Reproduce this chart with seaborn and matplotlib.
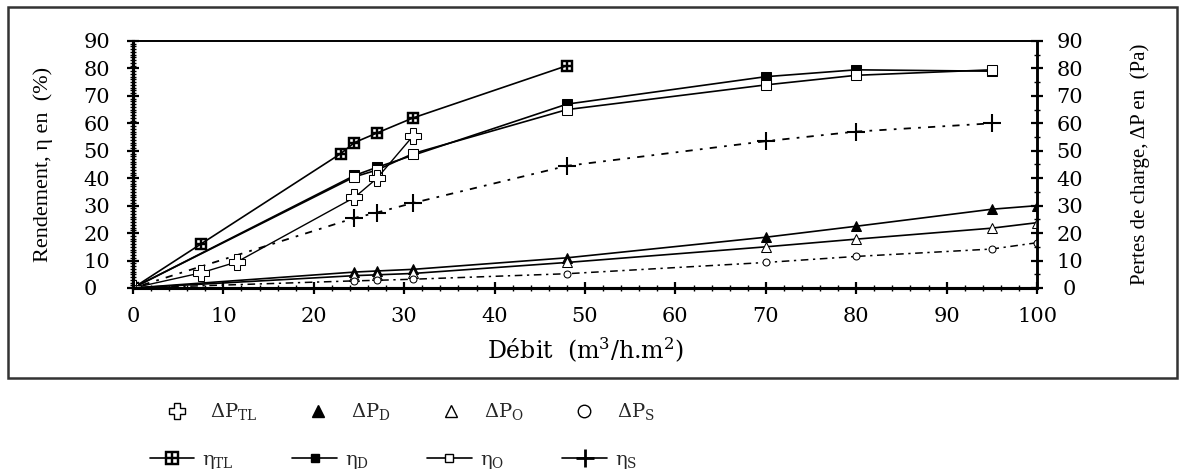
import matplotlib
matplotlib.use("Agg")
import matplotlib.pyplot as plt
from matplotlib.lines import Line2D
from matplotlib.patches import Rectangle
from matplotlib.ticker import MultipleLocator
import seaborn as sns

# débit (m3/h.m2) and measured values
x_tl = [0, 7.5, 23, 24.5, 27, 31, 48]
eta_tl = [0, 16, 49, 53, 56.5, 62, 81]

x_d = [0, 24.5, 27, 48, 70, 80, 95]
eta_d = [0, 41, 44, 67, 77, 79.5, 79]

x_o = [0, 24.5, 27, 31, 48, 70, 80, 95]
eta_o = [0, 40.5, 43, 49, 65, 74, 77.5, 79.5]

x_s = [0, 24.5, 27, 31, 48, 70, 80, 95]
eta_s = [0, 25.5, 27.5, 31, 44.5, 53.5, 57, 60]

x_dp_tl = [0, 7.5, 11.5, 24.5, 27, 31]
dp_tl = [0, 5.5, 9.5, 33, 40, 55.5]

x_dp = [0, 24.5, 27, 31, 48, 70, 80, 95, 100]
dp_d = [0, 5.8, 6.2, 6.8, 11, 18.5, 22.5, 28.7, 30]
dp_o = [0, 4.5, 4.8, 5.3, 9.3, 15, 17.8, 21.8, 23.8]
dp_s = [0, 2.6, 2.8, 3.2, 5.2, 9.3, 11.5, 14.2, 16.5]

sns.set_theme(style="ticks")
plt.rcParams["font.family"] = ["DejaVu Serif"]
plt.rcParams["mathtext.fontset"] = "dejavuserif"
label_font = ["Liberation Serif", "DejaVu Serif"]

fig = plt.figure(figsize=(11.79, 4.75), dpi=100)
ax = fig.add_axes([0.1128, 0.3937, 0.7668, 0.52])
ax2 = ax.twinx()

k = "black"
dashdot = (0, (5, 3, 1.5, 3))
sparse_dot = (0, (1.5, 4, 4, 4))

# rendement curves (left axis)
sns.lineplot(x=x_tl, y=eta_tl, ax=ax, color=k, lw=1.2, marker=r"$\boxplus$",
             markersize=8, markeredgewidth=0.3, markeredgecolor=k, markerfacecolor=k,
             sort=False)
sns.lineplot(x=x_d, y=eta_d, ax=ax, color=k, lw=1.2, marker="s", markersize=6.5,
             markerfacecolor=k, markeredgecolor=k, sort=False)
sns.lineplot(x=x_o, y=eta_o, ax=ax, color=k, lw=1.2, marker="s", markersize=6.5,
             markerfacecolor="white", markeredgecolor=k, sort=False)
sns.lineplot(x=x_s, y=eta_s, ax=ax, color=k, lw=1.3, marker="+", markersize=13,
             markeredgewidth=1.5, markeredgecolor=k, linestyle=sparse_dot, sort=False)

# pertes de charge (right axis)
sns.lineplot(x=x_dp_tl, y=dp_tl, ax=ax2, color=k, lw=1.0, marker="P", markersize=11,
             markerfacecolor="white", markeredgecolor=k, sort=False)
sns.lineplot(x=x_dp, y=dp_d, ax=ax2, color=k, lw=1.2, marker="^", markersize=7,
             markerfacecolor=k, markeredgecolor=k, sort=False)
sns.lineplot(x=x_dp, y=dp_o, ax=ax2, color=k, lw=1.2, marker="^", markersize=7,
             markerfacecolor="white", markeredgecolor=k, sort=False)
sns.lineplot(x=x_dp, y=dp_s, ax=ax2, color=k, lw=1.1, marker="o", markersize=5,
             markerfacecolor="white", markeredgecolor=k, linestyle=dashdot, sort=False)

for a in (ax, ax2):
    a.set_xlim(0, 100)
    a.set_ylim(0, 90)
    a.grid(False)
    for s in a.spines.values():
        s.set_color(k)
        s.set_visible(True)
    a.spines["left"].set_linewidth(2.2)
    a.spines["bottom"].set_linewidth(2.2)
    a.spines["right"].set_linewidth(1.8)
    a.spines["top"].set_linewidth(1.2)

ax.xaxis.set_major_locator(MultipleLocator(10))
ax.xaxis.set_minor_locator(MultipleLocator(2))
ax.yaxis.set_major_locator(MultipleLocator(10))
ax.yaxis.set_minor_locator(MultipleLocator(1))
ax2.yaxis.set_major_locator(MultipleLocator(10))
ax2.yaxis.set_minor_locator(MultipleLocator(5))

ax.tick_params(axis="x", which="major", direction="inout", length=9, width=1.6,
               labelsize=15, colors=k, pad=9)
ax.tick_params(axis="y", which="major", direction="inout", length=9, width=1.6,
               labelsize=15, colors=k, pad=31)
ax.tick_params(axis="both", which="minor", direction="inout", length=5, width=1.0, colors=k)
ax2.tick_params(axis="y", which="major", direction="inout", length=9, width=1.6,
                labelsize=15, colors=k, pad=19)
ax2.tick_params(axis="y", which="minor", direction="inout", length=5, width=1.0, colors=k)
for t in ax.get_yticklabels():
    t.set_horizontalalignment("left")
for t in ax2.get_yticklabels():
    t.set_horizontalalignment("center")

ax.set_xlabel("Débit  (m$^{3}$/h.m$^{2}$)", fontsize=17, color=k, labelpad=7)
ax.set_ylabel("Rendement, η en  (%)", fontsize=16, color=k, labelpad=22,
              family=label_font)
ax2.set_ylabel("Pertes de charge, ΔP en  (Pa)", fontsize=15, color=k, labelpad=34,
               family=label_font)

# outer frame around the plot
fig.add_artist(Rectangle((8 / 1179, 97 / 475), 1169 / 1179, 371 / 475,
                         transform=fig.transFigure, fill=False, edgecolor="#333333",
                         linewidth=1.8))

# legends below the frame
dp_handles = [
    Line2D([], [], color=k, linestyle="none", marker="P", markersize=12,
           markerfacecolor="white", markeredgecolor=k),
    Line2D([], [], color=k, linestyle="none", marker="^", markersize=9,
           markerfacecolor=k, markeredgecolor=k),
    Line2D([], [], color=k, linestyle="none", marker="^", markersize=9,
           markerfacecolor="white", markeredgecolor=k),
    Line2D([], [], color=k, linestyle="none", marker="o", markersize=9,
           markerfacecolor="white", markeredgecolor=k),
]
dp_labels = [r"ΔP$_{\mathrm{TL}}$", r"ΔP$_{\mathrm{D}}$",
             r"ΔP$_{\mathrm{O}}$", r"ΔP$_{\mathrm{S}}$"]
eta_handles = [
    Line2D([], [], color=k, lw=1.2, marker=r"$\boxplus$", markersize=10,
           markeredgewidth=0.3, markeredgecolor=k),
    Line2D([], [], color=k, lw=1.2, marker="s", markersize=6, markerfacecolor=k,
           markeredgecolor=k),
    Line2D([], [], color=k, lw=1.2, marker="s", markersize=6, markerfacecolor="white",
           markeredgecolor=k),
    Line2D([], [], color=k, lw=1.2, marker="+", markersize=13, markeredgewidth=2,
           markeredgecolor=k),
]
eta_labels = [r"η$_{\mathrm{TL}}$", r"η$_{\mathrm{D}}$",
              r"η$_{\mathrm{O}}$", r"η$_{\mathrm{S}}$"]

fig.legend(dp_handles, dp_labels, loc="center left", bbox_to_anchor=(0.1404, 0.133),
           ncol=4, frameon=False, fontsize=14, handlelength=1.2, borderaxespad=0,
           borderpad=0, handletextpad=1.1, columnspacing=2.5)
fig.legend(eta_handles, eta_labels, loc="center left", bbox_to_anchor=(0.127, 0.029),
           ncol=4, frameon=False, fontsize=14, handlelength=2.3, borderaxespad=0,
           borderpad=0, handletextpad=0.4, columnspacing=3.0)

fig.savefig("out.png", dpi=100)
